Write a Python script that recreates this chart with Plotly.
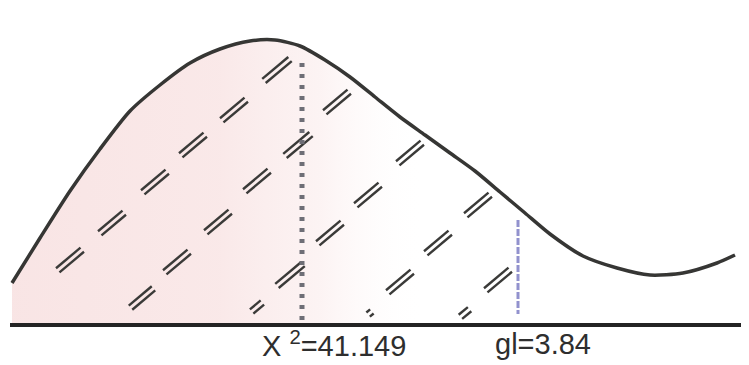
import math
import plotly.graph_objects as go

# ---- data (diagram coordinates: x to the right, y downward) ----
curve_x = [12, 40, 70, 100, 130, 160, 190, 220, 250, 275, 300, 325, 350, 375, 400,
           425, 450, 475, 500, 525, 550, 583, 617, 650, 683, 717, 735]
curve_y = [283, 238, 191, 149, 111, 85, 63, 49, 41, 40, 46, 60, 77, 97, 117,
           135, 153, 171, 192, 213, 234, 256, 268, 275, 273, 263, 255]

baseline_x = [10, 749]
baseline_y = [325, 325]

crit_x = [302, 302]      # chi-square statistic marker
crit_y = [63, 325]
gl_x = [518, 518]        # critical value marker
gl_y = [220, 314]

shade_last = 15          # index of last curve point in the shaded zone

hatch_x = [70, 112, 155, 193, 234, 277,
           142, 177, 218, 257, 298, 337,
           257, 290, 330, 368, 410,
           370, 400, 438, 478,
           465, 498]
hatch_y = [260, 223, 182, 145, 110, 70,
           298, 262, 222, 181, 145, 102,
           307, 275, 233, 195, 153,
           313, 282, 243, 205,
           313, 280]
hatch_len = [32, 32, 32, 32, 32, 34,
             30, 32, 32, 32, 34, 32,
             14, 34, 32, 32, 32,
             5, 32, 32, 32,
             12, 32]

label_text = ["X <sup>2</sup>=41.149", "gl=3.84"]
label_x = [334, 543]
label_y = [344, 344]

# page offset of the plot inside the browser window (body margin)
PAGE_OFF = 8

fig = go.Figure()

# pink shading under left part of the curve
sx = curve_x[:shade_last + 1] + [curve_x[shade_last], curve_x[0]]
sy = curve_y[:shade_last + 1] + [baseline_y[0], baseline_y[0]]
fig.add_trace(go.Scatter(
    x=sx, y=sy, mode="lines", fill="toself", line=dict(width=0, color="rgba(0,0,0,0)"),
    fillgradient=dict(type="horizontal", colorscale=[
        [0, "rgba(247,222,222,0.8)"], [0.5, "rgba(248,225,225,0.75)"],
        [0.75, "rgba(250,234,234,0.55)"], [1, "rgba(255,255,255,0)"]]),
    hoverinfo="skip", showlegend=False))

# hatch: pairs of short parallel dashes
ang = math.radians(40)
ux, uy = math.cos(ang), -math.sin(ang)
nx, ny = math.sin(ang), math.cos(ang)
off = 2.7
hx, hy = [], []
for cx, cy, L in zip(hatch_x, hatch_y, hatch_len):
    for s in (-off, off):
        px, py = cx + s * nx, cy + s * ny
        hx += [px - ux * L / 2, px + ux * L / 2, None]
        hy += [py - uy * L / 2, py + uy * L / 2, None]
fig.add_trace(go.Scatter(x=hx, y=hy, mode="lines",
                         line=dict(color="#3a3a38", width=2.4),
                         hoverinfo="skip", showlegend=False))

# vertical markers
fig.add_trace(go.Scatter(x=crit_x, y=crit_y, mode="lines",
                         line=dict(color="#6e6e76", width=5, dash="4px,7px"),
                         hoverinfo="skip", showlegend=False))
fig.add_trace(go.Scatter(x=gl_x, y=gl_y, mode="lines",
                         line=dict(color="rgba(110,110,190,0.75)", width=3, dash="7px,2px"),
                         hoverinfo="skip", showlegend=False))

# curve
fig.add_trace(go.Scatter(x=curve_x, y=curve_y, mode="lines",
                         line=dict(color="#363634", width=3.5, shape="spline", smoothing=0.7),
                         hoverinfo="skip", showlegend=False))

# baseline
fig.add_trace(go.Scatter(x=baseline_x, y=baseline_y, mode="lines",
                         line=dict(color="#242424", width=4),
                         hoverinfo="skip", showlegend=False))

for t, x, y in zip(label_text, label_x, label_y):
    fig.add_annotation(x=x, y=y, xref="x", yref="y", text=t, showarrow=False,
                       font=dict(family="Liberation Sans", size=29, color="#2e2e2e"),
                       xanchor="center", yanchor="middle")

fig.update_layout(
    width=749, height=365, margin=dict(l=0, r=0, t=0, b=0),
    paper_bgcolor="white", plot_bgcolor="white",
    xaxis=dict(range=[PAGE_OFF, 749 + PAGE_OFF], visible=False, fixedrange=True),
    yaxis=dict(range=[365 + PAGE_OFF, PAGE_OFF], visible=False, fixedrange=True),
)
fig.write_html("out.html")
